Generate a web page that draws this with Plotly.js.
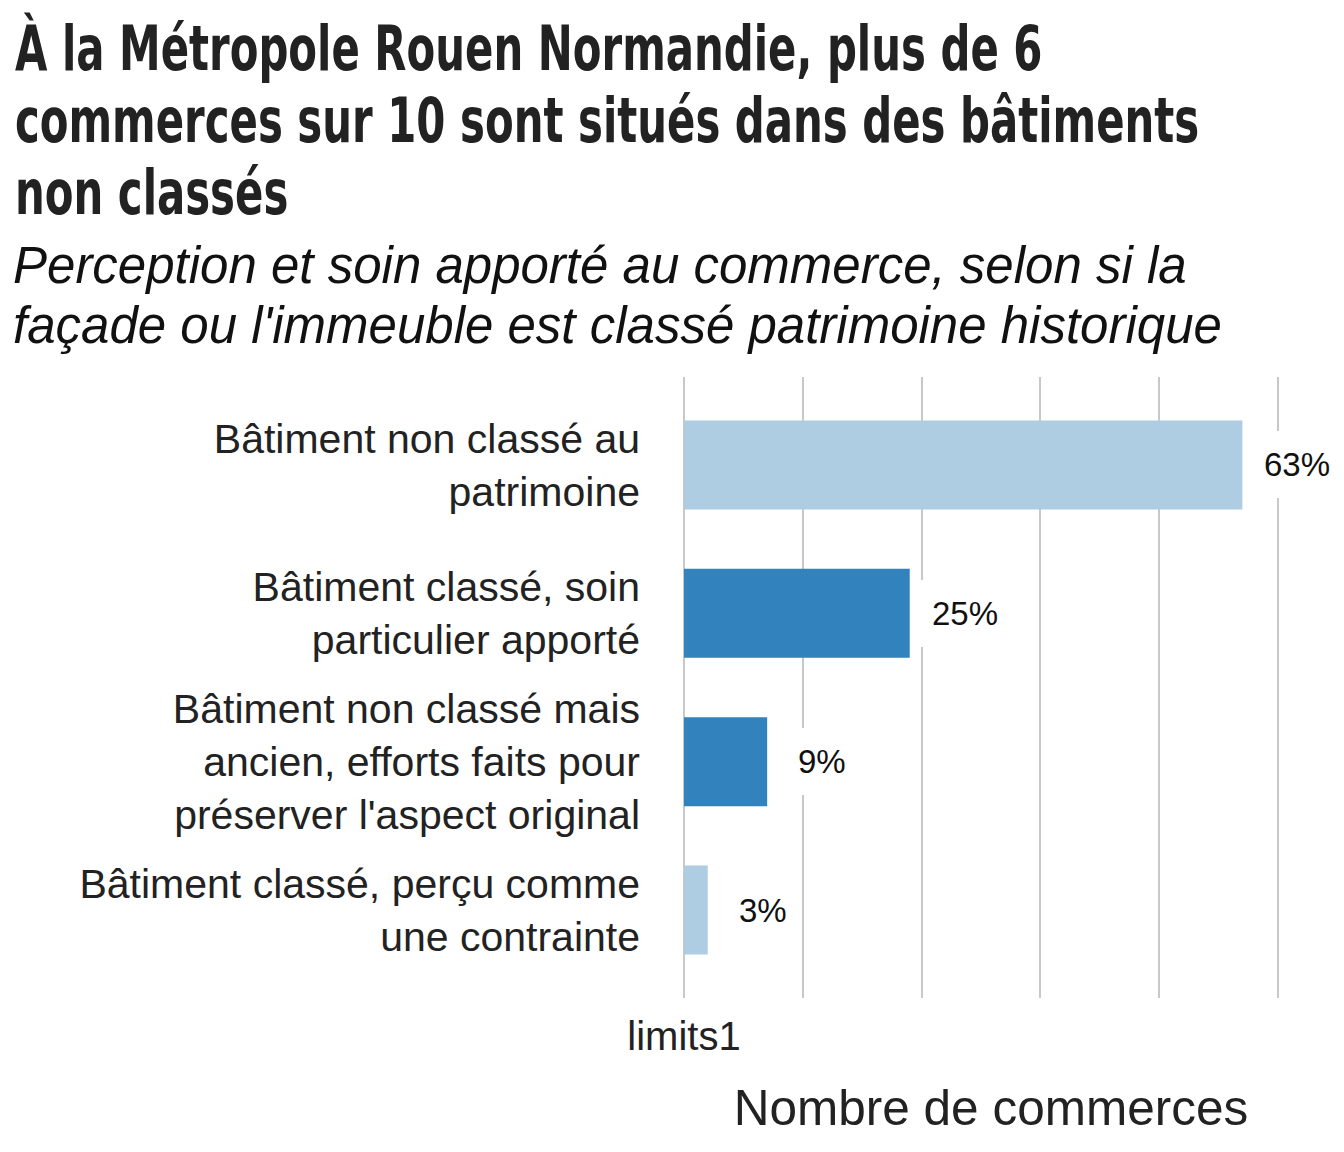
<!DOCTYPE html>
<html>
<head>
<meta charset="utf-8">
<script src="https://cdn.plot.ly/plotly-3.0.1.min.js"></script>
<style>html,body{margin:0;padding:0;background:#fff;}</style>
</head>
<body>
<div id="chart" style="width:1344px;height:1152px;"></div>
<script>
// ---- Data ----
var categories = [
  "Bâtiment non classé au<br>patrimoine",
  "Bâtiment classé, soin<br>particulier apporté",
  "Bâtiment non classé mais<br>ancien, efforts faits pour<br>préserver l'aspect original",
  "Bâtiment classé, perçu comme<br>une contrainte"
];
var counts = [94, 38, 14, 4];
var percentLabels = ["63%", "25%", "9%", "3%"];
var barColors = ["#aecde3", "#3182bd", "#3182bd", "#aecde3"];
var xTickVals = [0, 20, 40, 60, 80, 100];
var xTickText = ["limits1", "", "", "", "", ""];

var titleLines = [
  "À la Métropole Rouen Normandie, plus de 6",
  "commerces sur 10 sont situés dans des bâtiments",
  "non classés"
];
var subtitleLines = [
  "Perception et soin apporté au commerce, selon si la",
  "façade ou l'immeuble est classé patrimoine historique"
];

// ---- Geometry helpers (page layout only) ----
var H = 1152, W = 1344;
var mL = 682, mR = 44, mT = 377, mB = 154;
var plotH = H - mT - mB;
var plotW = W - mL - mR;
function py(px) { return 1 - (px - mT) / plotH; }
function pxX(px) { return (px - mL) / plotW; }

var trace = {
  type: "bar",
  orientation: "h",
  x: counts,
  y: categories,
  marker: {color: barColors, line: {width: 0}},
  width: 0.6,
  hoverinfo: "x+y"
};

var annotations = counts.map(function(v, i) {
  return {
    x: v, y: categories[i], xref: "x", yref: "y",
    text: percentLabels[i], showarrow: false,
    xanchor: "center", yanchor: "middle", xshift: 55,
    bgcolor: "#ffffff", borderpad: 15, borderwidth: 0,
    font: {family: "Liberation Sans, Arial, sans-serif", size: 33, color: "#111111"}
  };
});

var nBar = annotations.length;
var titleSize = 62;
var titleBaselines = [70, 142, 214];
titleLines.forEach(function(t, i) {
  annotations.push({
    xref: "paper", yref: "paper", x: pxX(13), y: py(titleBaselines[i] - 0.346 * titleSize),
    xanchor: "left", yanchor: "middle", align: "left", showarrow: false,
    text: t,
    font: {family: "DejaVu Sans Condensed, DejaVu Sans, sans-serif", size: titleSize, color: "#222222", weight: 700}
  });
});
var subSize = 51;
var subBaselines = [283, 343];
subtitleLines.forEach(function(t, i) {
  annotations.push({
    xref: "paper", yref: "paper", x: pxX(11), y: py(subBaselines[i] - 0.346 * subSize),
    xanchor: "left", yanchor: "middle", align: "left", showarrow: false,
    text: t,
    font: {family: "Liberation Sans, Arial, sans-serif", size: subSize, color: "#111111", style: "italic"}
  });
});

var layout = {
  width: W, height: H,
  paper_bgcolor: "#ffffff", plot_bgcolor: "#ffffff",
  margin: {l: mL, r: mR, t: mT, b: mB},
  showlegend: false,
  xaxis: {
    range: [-0.337, 103.7],
    tickvals: xTickVals, ticktext: xTickText,
    showgrid: true, gridcolor: "#c8c8c8", gridwidth: 2,
    zeroline: false, showline: false,
    ticks: "", ticklabelstandoff: 11,
    tickfont: {family: "Liberation Sans, Arial, sans-serif", size: 40, color: "#222222"},
    title: {text: "Nombre de commerces", standoff: 33,
      font: {family: "Liberation Sans, Arial, sans-serif", size: 49.5, color: "#222222"}},
    automargin: false,
    fixedrange: true
  },
  yaxis: {
    type: "category",
    categoryorder: "array", categoryarray: categories,
    range: [3.593, -0.593],
    showgrid: false, zeroline: false, showline: false,
    ticks: "", ticklabelstandoff: 41,
    tickfont: {family: "Liberation Sans, Arial, sans-serif", size: 41, color: "#222222"},
    automargin: false,
    fixedrange: true
  },
  annotations: annotations
};

Plotly.newPlot("chart", [trace], layout, {displayModeBar: false, staticPlot: true}).then(function() {
  // condense the headline glyphs horizontally (style only)
  for (var i = nBar; i < nBar + titleLines.length; i++) {
    var el = document.querySelector('g.annotation[data-index="' + i + '"] text.annotation-text');
    if (!el) continue;
    var bb = el.getBBox();
    var x0 = bb.x;
    el.setAttribute("transform", "translate(" + x0 + " 0) scale(0.75 1) translate(" + (-x0) + " 0)");
  }
});
</script>
</body>
</html>
